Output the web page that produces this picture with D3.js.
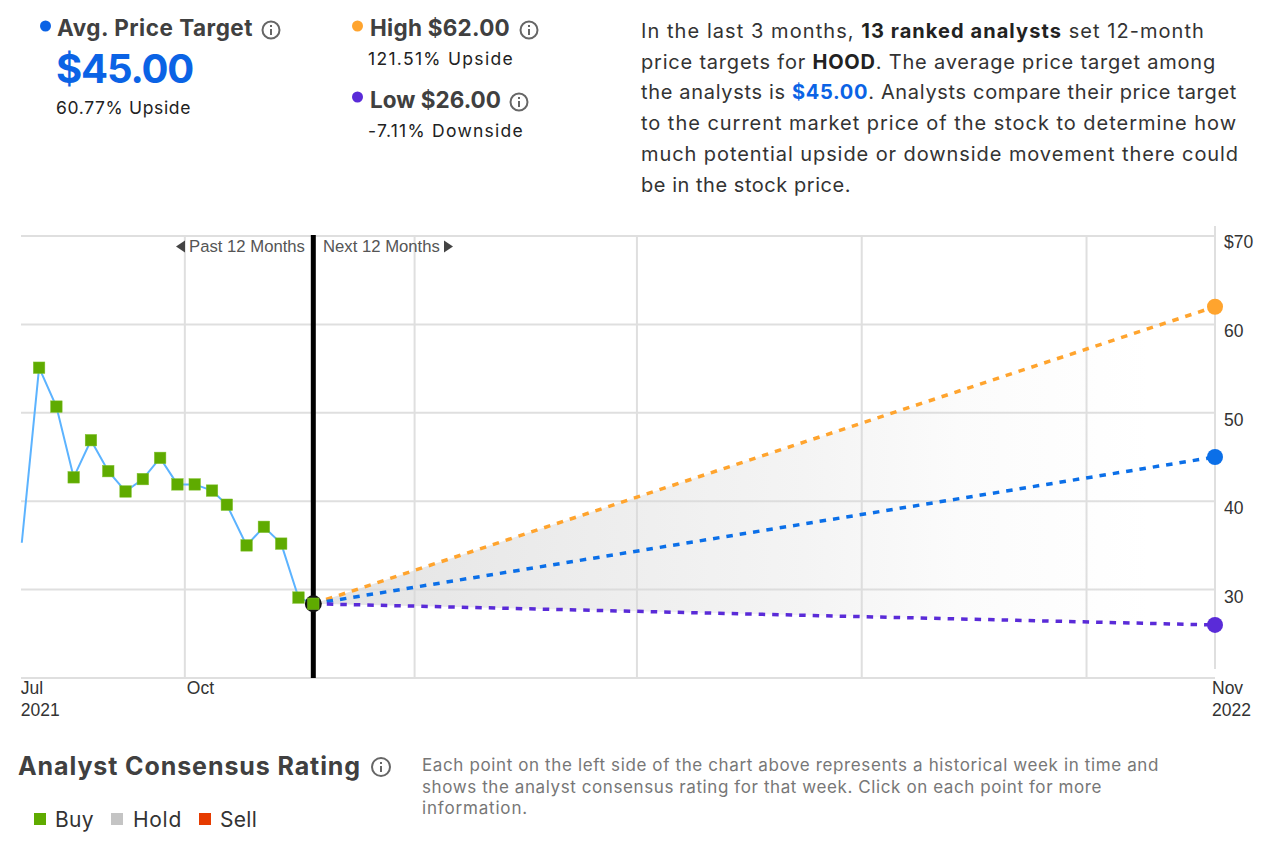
<!DOCTYPE html>
<html><head><meta charset="utf-8">
<script src="https://cdn.jsdelivr.net/npm/d3@7/dist/d3.min.js"></script>
<style>
html,body{margin:0;padding:0;background:#fff;overflow:hidden}
svg{display:block}
.ui{font-family:"Inter","Roboto",sans-serif}
.ch{font-family:"Liberation Sans",Arial,sans-serif}
</style></head><body>
<svg id="c" width="1280" height="860"></svg>
<script>
const historyDates = ["2021-07-27","2021-08-03","2021-08-10","2021-08-17","2021-08-24","2021-08-31","2021-09-07","2021-09-14","2021-09-21","2021-09-28","2021-10-05","2021-10-12","2021-10-18","2021-10-26","2021-11-02","2021-11-09","2021-11-16","2021-11-22"];
const historyValues = [35.3,55.1,50.7,42.7,46.9,43.4,41.1,42.5,44.9,41.9,41.9,41.2,39.6,35.0,37.1,35.2,29.1,28.4];
const domainDates = ["2021-07-27","2022-11-22"];
const nowDate = "2021-11-22";
const endDate = "2022-11-22";
const gridDates = ["2021-10-01","2022-01-02","2022-04-02","2022-07-02","2022-10-01"];
const yTicks = [70,60,50,40,30];
const nowValue = 28.4;
const highTarget = 62, avgTarget = 45, lowTarget = 26;
const xLabels = [["Jul","2021","2021-07-27"],["Oct","","2021-10-01"],["Nov","2022","2022-11-22"]];
const legendNames = ["Buy","Hold","Sell"];
const legendColors = ["#5fab00","#c4c4c4","#e63b00"];

const P = d => new Date(d+"T00:00:00Z");
const svg = d3.select("#c");
const x = d3.scaleUtc().domain(domainDates.map(P)).range([21.8,1215]);
const y = d3.scaleLinear().domain([20,70]).range([678,236]);

const grid = svg.append("g").attr("stroke","#dfdfdf").attr("stroke-width",2).attr("fill","none");
grid.selectAll(".h").data([...yTicks,20]).join("line")
  .attr("x1",21).attr("x2",1215).attr("y1",d=>y(d)).attr("y2",d=>y(d));
grid.selectAll(".v").data(gridDates).join("line")
  .attr("x1",d=>x(P(d))).attr("x2",d=>x(P(d))).attr("y1",236).attr("y2",678);
grid.append("line").attr("x1",x(P(endDate))).attr("x2",x(P(endDate))).attr("y1",226).attr("y2",669);

const defs = svg.append("defs");
const lg = defs.append("linearGradient").attr("id","fan").attr("gradientUnits","userSpaceOnUse")
  .attr("x1",x(P(nowDate))).attr("x2",1150).attr("y1",0).attr("y2",0);
[[0,.7],[.39,.42],[.59,.28],[.77,.1],[1,0]].forEach(s=>
  lg.append("stop").attr("offset",s[0]).attr("stop-color","#d8d8d8").attr("stop-opacity",s[1]));
const area = d3.area().x(d=>x(P(d.d))).y0(d=>y(d.lo)).y1(d=>y(d.hi));
svg.append("path").attr("fill","url(#fan)")
  .attr("d",area([{d:nowDate,lo:nowValue,hi:nowValue},{d:endDate,lo:lowTarget,hi:highTarget}]));

const line = d3.line().x((d,i)=>x(P(historyDates[i]))).y(d=>y(d));
svg.append("path").attr("d",line(historyValues)).attr("fill","none").attr("stroke","#5cb3ff").attr("stroke-width",2);

svg.append("line").attr("x1",x(P(nowDate))).attr("x2",x(P(nowDate))).attr("y1",235).attr("y2",678)
  .attr("stroke","#000").attr("stroke-width",5);

const fc = [[highTarget,"#ffa42e"],[avgTarget,"#0b6fe8"],[lowTarget,"#5a2bd8"]];
const fl = d3.line().x(d=>x(P(d[0]))).y(d=>y(d[1]));
svg.selectAll(".fc").data(fc).join("path")
  .attr("d",d=>fl([[nowDate,nowValue],[endDate,d[0]]]))
  .attr("fill","none").attr("stroke",d=>d[1]).attr("stroke-width",3.5).attr("stroke-dasharray","6.5 7");
svg.selectAll(".fd").data(fc).join("circle")
  .attr("cx",x(P(endDate))).attr("cy",d=>y(d[0])).attr("r",8).attr("fill",d=>d[1]);

svg.append("circle").attr("cx",x(P(nowDate))).attr("cy",y(nowValue)).attr("r",8.5).attr("fill","#111");
svg.selectAll(".pt").data(historyValues.slice(1)).join("rect")
  .attr("x",(d,i)=>x(P(historyDates[i+1]))-5.75).attr("y",d=>y(d)-5.75)
  .attr("width",11.5).attr("height",11.5).attr("fill","#5fab00").attr("stroke","#7fc02a").attr("stroke-width",.5);

const ya = svg.append("g").attr("class","ch").attr("font-size",17.5).attr("fill","#333");
ya.selectAll("text").data(yTicks).join("text")
  .attr("x",1224).attr("y",d=>y(d)+(d===70?12:13)).text(d=>d===70?"$"+d:d);
const xa = svg.append("g").attr("class","ch").attr("font-size",17.5).attr("fill","#333");
xLabels.forEach(l=>{
  const px = x(P(l[2]));
  const tx = l[0]==="Nov" ? px-3 : (l[0]==="Oct" ? px+2 : px-1);
  xa.append("text").attr("x",tx).attr("y",694).text(l[0]);
  if(l[1]) xa.append("text").attr("x",tx).attr("y",716).text(l[1]);
});
const pn = svg.append("g").attr("class","ch").attr("font-size",16.7).attr("fill","#555");
pn.append("text").attr("x",189).attr("y",252).text("Past 12 Months");
pn.append("text").attr("x",323).attr("y",252).text("Next 12 Months");
pn.append("path").attr("fill","#444").attr("d","M176 246.5L185 240.5V252.5Z");
pn.append("path").attr("fill","#444").attr("d","M453 246.5L444 240.5V252.5Z");

function fit(sel,w){
  const n=sel.node(); sel.attr("letter-spacing",0);
  const l=n.getComputedTextLength(), c=n.textContent.length;
  sel.attr("letter-spacing",(w-l)/c);
  return sel;
}
function info(cx,cy,r){
  const g=svg.append("g").attr("stroke","#666").attr("fill","none");
  g.append("circle").attr("cx",cx).attr("cy",cy).attr("r",r||8.5).attr("stroke-width",2);
  g.append("line").attr("x1",cx).attr("x2",cx).attr("y1",cy-1).attr("y2",cy+5).attr("stroke-width",2);
  g.append("line").attr("x1",cx).attr("x2",cx).attr("y1",cy-5).attr("y2",cy-3).attr("stroke-width",2);
}
function t(px,py,s,size,weight,fill,w){
  const e=svg.append("text").attr("class","ui").attr("x",px).attr("y",py).attr("font-size",size)
    .attr("font-weight",weight||400).attr("fill",fill||"#222").text(s);
  return w?fit(e,w):e;
}
svg.append("circle").attr("cx",45.5).attr("cy",26).attr("r",5.5).attr("fill","#0b63e5");
t(57,36,"Avg. Price Target",22.5,700,"#404040",196);
info(271,30);
t(56,83,"$45.00",40,700,"#0b63e5",137);
t(56,114,"60.77% Upside",17.5,400,"#222",135);
svg.append("circle").attr("cx",357.5).attr("cy",26).attr("r",5.5).attr("fill","#ffa42e");
t(370,36,"High $62.00",22.5,700,"#404040",140);
info(529,30);
t(368,65,"121.51% Upside",17.5,400,"#222",146);
svg.append("circle").attr("cx",357.5).attr("cy",97).attr("r",5.5).attr("fill","#5a2bd8");
t(370,108,"Low $26.00",22.5,700,"#404040",131);
info(519,102);
t(368,137,"-7.11% Downside",17.5,400,"#222",156);

const para = [
 [["In the last 3 months, ",0],["13 ranked analysts",1],[" set 12-month",0]],
 [["price targets for ",0],["HOOD",1],[". The average price target among",0]],
 [["the analysts is ",0],["$45.00",2],[". Analysts compare their price target",0]],
 [["to the current market price of the stock to determine how",0]],
 [["much potential upside or downside movement there could",0]],
 [["be in the stock price.",0]]
];
const paraWidths = [564,575,596,596,598,210];
para.forEach((ln,i)=>{
  const te=svg.append("text").attr("class","ui").attr("x",641).attr("y",38+i*30.7)
    .attr("font-size",20).attr("fill","#333");
  ln.forEach(s=>te.append("tspan").text(s[0])
    .attr("font-weight",s[1]?700:400).attr("fill",s[1]===2?"#0b63e5":(s[1]===1?"#222":"#333")));
  fit(te,paraWidths[i]);
});

t(18,775,"Analyst Consensus Rating",25,700,"#404040",343);
info(381,767,9);
const lx=[34,111,199];
const lt=[55,133,220];
const lw=[39,49,37];
legendNames.forEach((n,i)=>{
  svg.append("rect").attr("x",lx[i]).attr("y",813).attr("width",12).attr("height",12).attr("fill",legendColors[i]);
  t(lt[i],827,n,21,400,"#333",lw[i]);
});
[["Each point on the left side of the chart above represents a historical week in time and",737],
 ["shows the analyst consensus rating for that week. Click on each point for more",680],
 ["information.",106]].forEach((s,i)=>t(422,771+i*21.5,s[0],17,400,"#777",s[1]));
</script>
</body></html>
